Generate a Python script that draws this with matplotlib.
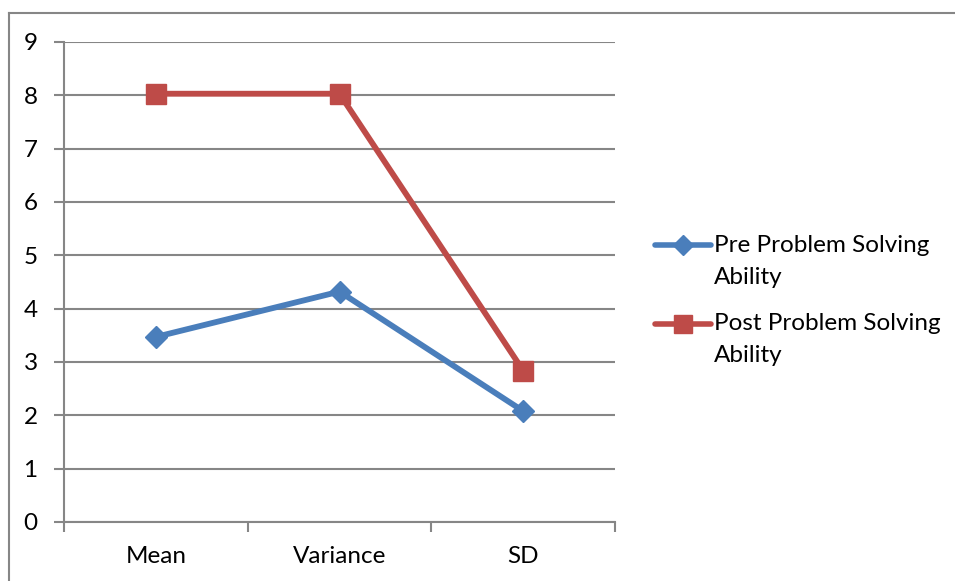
import matplotlib
matplotlib.use("Agg")
import matplotlib.pyplot as plt
from matplotlib.lines import Line2D

categories = ["Mean", "Variance", "SD"]
pre_values = [3.47, 4.32, 2.08]
post_values = [8.03, 8.03, 2.84]
series_names = ["Pre Problem Solving\nAbility", "Post Problem Solving\nAbility"]
y_ticks = list(range(0, 10))

plt.rcParams['font.family'] = ['Lato', 'DejaVu Sans']

W, H = 955, 581
FS = 17.5
fig = plt.figure(figsize=(W / 100, H / 100), dpi=100)
ax = fig.add_axes([64 / W, 1 - 522 / H, (615 - 64) / W, (522 - 42) / H])

grid_c = "#868686"
blue = "#4a7ebb"
red = "#be4b48"

x = list(range(len(categories)))
ax.plot(x, pre_values, color=blue, lw=4.2, marker="D", ms=11, mfc=blue, mec=blue,
        solid_joinstyle="round", zorder=3)
ax.plot(x, post_values, color=red, lw=4.2, marker="s", ms=14, mfc=red, mec=red,
        solid_joinstyle="round", zorder=3)

ax.set_xlim(-0.5, len(categories) - 0.5)
ax.set_ylim(0, 9)
ax.set_yticks(y_ticks)
ax.set_yticklabels([str(v) for v in y_ticks])
ax.yaxis.grid(True, color=grid_c, lw=1.5)
ax.set_axisbelow(True)

ax.set_xticks([i + 0.5 for i in range(-1, len(categories))])
ax.set_xticklabels([])
ax.set_xticks(x, minor=True)
ax.set_xticklabels(categories, minor=True)
ax.tick_params(axis="x", which="major", length=7, width=1.5, color=grid_c, direction="out")
ax.tick_params(axis="x", which="minor", length=0, pad=17, labelsize=FS)
ax.tick_params(axis="y", length=7, width=1.5, color=grid_c, labelsize=FS, pad=12)

for s in ["top", "right"]:
    ax.spines[s].set_visible(False)
for s in ["left", "bottom"]:
    ax.spines[s].set_color(grid_c)
    ax.spines[s].set_linewidth(1.5)

# legend drawn manually (handle aligned with first text line, as in Excel)
leg_styles = [dict(color=blue, marker="D", ms=10), dict(color=red, marker="s", ms=13)]
y0s = [245, 324]
for name, st, y0 in zip(series_names, leg_styles, y0s):
    fig.add_artist(Line2D([655 / W, 711 / W], [1 - y0 / H, 1 - y0 / H],
                          transform=fig.transFigure, color=st["color"], lw=4,
                          solid_capstyle="round"))
    fig.add_artist(Line2D([683 / W], [1 - y0 / H], transform=fig.transFigure,
                          color=st["color"], marker=st["marker"], ms=st["ms"],
                          mfc=st["color"], mec=st["color"], lw=0))
    for i, line in enumerate(name.split("\n")):
        fig.text(714 / W, 1 - (y0 + 32 * i) / H, line, fontsize=FS, va="center",
                 ha="left", color="black")

# outer border (top and left visible)
fig.add_artist(Line2D([9 / W, 1], [1 - 13 / H, 1 - 13 / H], transform=fig.transFigure,
                      color=grid_c, lw=1.5))
fig.add_artist(Line2D([9 / W, 9 / W], [0, 1 - 13 / H], transform=fig.transFigure,
                      color=grid_c, lw=1.5))

fig.savefig("out.png", dpi=100)
